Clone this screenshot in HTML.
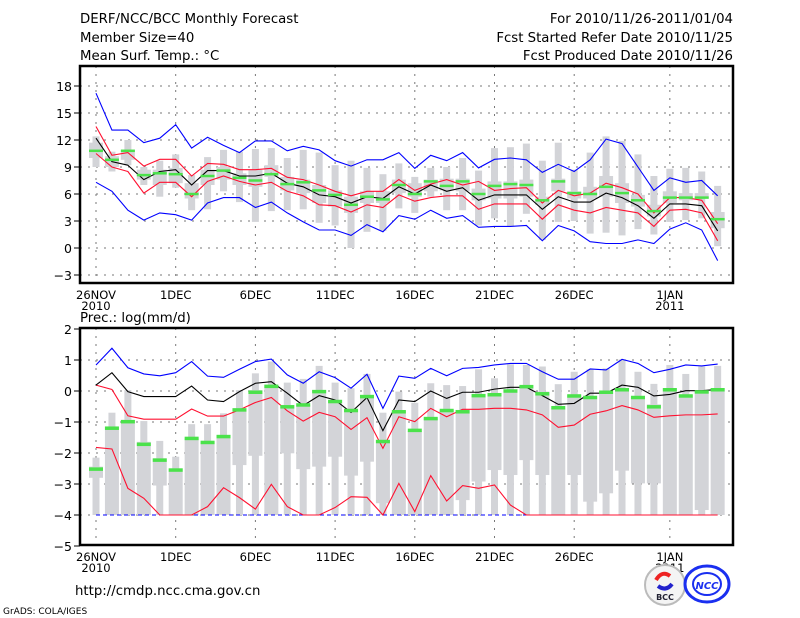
<!DOCTYPE html>
<html><head><meta charset="utf-8"><style>
html,body{margin:0;padding:0;background:#fff;}
svg{display:block;font-family:"DejaVu Sans","Liberation Sans",sans-serif;}
</style></head><body>
<svg id="chart" width="800" height="618" viewBox="0 0 800 618" xmlns="http://www.w3.org/2000/svg">
<g font-size="13.3" fill="#000">
<text x="80" y="23">DERF/NCC/BCC Monthly Forecast</text>
<text x="80" y="42">Member Size=40</text>
<text x="80" y="60">Mean Surf. Temp.: °C</text>
<text x="733" y="23" text-anchor="end">For 2010/11/26-2011/01/04</text>
<text x="733" y="42" text-anchor="end">Fcst Started Refer Date 2010/11/25</text>
<text x="733" y="60" text-anchor="end">Fcst Produced Date 2010/11/26</text>
<text x="80" y="322">Prec.: log(mm/d)</text>
<text x="75" y="595">http://cmdp.ncc.cma.gov.cn</text>
<text x="3" y="614" font-size="9">GrADS: COLA/IGES</text>
</g>
<g id="top"></g>
<g id="bot"></g>
<g>
<circle cx="665" cy="585" r="20" fill="#f4f4f4" stroke="#bbb" stroke-width="2"/>
<path d="M656 580 q6 -10 14 -4" stroke="#e22" stroke-width="4" fill="none"/>
<path d="M672 584 q-6 8 -14 2" stroke="#22c" stroke-width="4" fill="none"/>
<text x="665" y="600" font-size="8" text-anchor="middle" font-weight="bold" fill="#223">BCC</text>
</g>
<g>
<ellipse cx="707" cy="584" rx="22" ry="18" fill="#fff" stroke="#1a2ff0" stroke-width="3"/>
<ellipse cx="707" cy="584" rx="14" ry="11" fill="none" stroke="#1a2ff0" stroke-width="2"/>
<text x="707" y="589" font-size="10" text-anchor="middle" font-weight="bold" font-style="italic" fill="#1a2ff0">NCC</text>
</g>
</svg>
<script>
// ===== Temperature data (°C), days 26NOV..04JAN =====
const tBlueHi=[17.2,13.1,13.1,11.7,12.2,13.7,11.1,12.3,11.4,10.6,11.9,11.9,10.8,11.3,10.9,9.7,9.1,9.8,9.8,10.6,8.85,10.3,9.7,10.6,8.9,9.85,10.0,9.8,8.4,9.3,8.5,9.8,12.1,11.6,9.0,6.4,7.8,7.3,7.5,5.8];
const tBlueLo=[7.3,6.3,4.2,3.1,3.9,3.7,3.1,5.0,5.6,5.6,4.5,5.1,3.9,2.9,2.0,2.0,1.4,2.6,1.8,3.6,3.2,4.2,3.3,3.6,2.3,2.4,2.4,2.5,0.8,2.5,1.9,0.7,0.5,0.5,0.9,0.5,2.1,2.8,2.0,-1.4];
const tRedHi=[13.5,10.3,10.6,9.1,9.85,9.85,8.0,9.4,9.3,8.7,8.7,8.85,7.85,7.6,7.0,6.3,5.8,6.3,6.3,7.6,6.4,7.1,7.6,7.0,7.4,6.4,6.6,6.7,5.0,6.4,5.8,6.1,7.2,6.7,6.0,3.9,5.6,5.6,5.3,2.7];
const tRedLo=[10.5,9.0,8.5,6.1,7.3,7.3,5.7,7.4,8.0,7.4,7.0,7.3,6.3,5.8,4.8,4.7,4.0,4.8,4.5,5.9,5.2,5.6,5.8,5.8,4.3,4.9,4.9,4.9,3.2,4.8,4.2,3.9,4.5,4.2,3.9,2.4,4.2,4.3,3.9,0.8];
const tMean=[12.2,9.6,9.2,7.6,8.5,8.7,7.0,8.6,8.6,8.0,8.0,8.3,7.2,6.8,5.9,5.7,5.0,5.7,5.5,6.8,6.0,7.0,6.3,6.7,5.3,5.9,5.9,5.9,4.3,5.7,5.1,5.1,6.1,5.6,4.7,3.3,4.9,4.9,4.7,1.9];
const tGreen=[10.8,9.8,10.8,8.1,8.3,8.2,6.0,8.0,8.6,7.8,7.5,8.2,7.1,7.3,6.4,5.9,4.8,5.7,5.4,7.0,6.0,7.4,6.9,7.4,6.0,6.9,7.1,7.0,5.3,7.4,6.1,6.0,6.8,6.1,5.3,4.1,5.6,5.6,5.6,3.2];
const tWMax=[12.4,10.7,12.0,9.0,9.7,10.4,8.1,10.1,10.9,10.7,11.0,11.1,10.0,10.9,10.6,9.2,9.7,8.9,8.2,9.4,7.9,8.9,9.0,10.0,8.6,11.1,11.2,11.6,9.7,11.7,8.7,10.6,12.4,11.9,10.4,8.0,8.8,8.9,8.5,6.9];
const tWMin=[9.0,8.5,9.2,7.0,5.7,6.7,4.2,4.3,6.3,5.1,2.9,4.1,4.2,4.3,2.8,2.5,0.0,1.8,1.9,4.4,3.9,5.7,4.2,4.2,2.5,3.3,2.4,3.8,0.9,2.9,3.0,1.6,1.7,1.4,2.1,1.5,2.9,3.1,3.3,0.2];
const tBoxHi=[11.7,10.2,10.9,8.7,8.7,8.9,7.2,8.7,9.0,8.3,8.7,9.2,7.9,7.6,7.0,6.4,5.7,6.3,6.3,7.6,7.2,7.6,7.7,7.7,6.6,7.4,7.4,7.6,5.7,7.7,6.3,6.8,8.0,7.2,5.9,4.8,6.3,6.1,6.1,4.0];
const tBoxLo=[10.0,9.0,9.8,7.6,7.0,7.2,5.5,7.0,7.6,7.0,6.8,7.9,6.4,6.1,5.0,4.6,3.9,5.0,5.0,6.1,5.7,6.3,6.4,6.3,5.3,5.5,5.5,5.7,4.8,6.3,5.5,5.5,5.7,5.0,4.6,3.5,5.0,5.3,5.5,2.2];
const tTicks=[18,15,12,9,6,3,0,-3];
// ===== Precipitation data log(mm/d) =====
const pBlueHi=[0.84,1.38,0.75,0.55,0.49,0.59,0.95,0.48,0.44,0.70,0.95,1.03,0.52,0.25,0.62,0.43,0.09,0.54,-0.56,0.48,0.41,0.73,0.49,0.73,0.76,0.84,0.89,0.89,0.62,0.38,0.38,0.71,0.68,1.02,0.89,0.59,0.70,0.84,0.81,0.87];
const pMean=[0.19,0.59,-0.02,-0.18,-0.18,-0.18,0.16,-0.29,-0.34,-0.02,0.25,0.30,-0.07,-0.47,-0.15,-0.29,-0.69,-0.21,-1.28,-0.29,-0.34,0.0,-0.24,-0.04,-0.04,0.06,0.12,0.12,-0.15,-0.43,-0.40,-0.07,-0.07,0.19,0.12,-0.16,-0.11,0.01,0.01,0.05];
const pRedHi=[0.19,0.05,-0.80,-0.91,-0.91,-0.91,-0.58,-0.81,-0.81,-0.61,-0.37,-0.21,-0.64,-0.97,-0.69,-0.83,-1.24,-0.86,-1.85,-0.83,-0.99,-0.56,-0.83,-0.59,-0.59,-0.56,-0.56,-0.61,-0.77,-1.17,-1.10,-0.75,-0.64,-0.47,-0.61,-0.85,-0.80,-0.77,-0.77,-0.74];
const pRedLo=[-1.82,-1.87,-3.14,-3.46,-4,-4,-4,-3.73,-3.12,-3.44,-3.81,-3.01,-3.73,-4,-4,-3.76,-3.41,-3.43,-4,-2.98,-3.89,-2.73,-3.55,-3.05,-3.14,-3.03,-3.68,-4,-4,-4,-4,-4,-4,-4,-4,-4,-4,-4,-4,-4];
const pBlueLo=[-4,-4,-4,-4,-4,-4,-4,-4,-4,-4,-4,-4,-4,-4,-4,-4,-4,-4,-4,-4,-4,-4,-4,-4,-4,-4,-4,-4,-4,-4,-4,-4,-4,-4,-4,-4,-4,-4,-4,-4];
const pGreen=[-2.52,-1.20,-0.99,-1.72,-2.23,-2.55,-1.53,-1.66,-1.47,-0.61,-0.04,0.15,-0.51,-0.45,-0.02,-0.34,-0.63,-0.18,-1.63,-0.67,-1.27,-0.89,-0.63,-0.67,-0.15,-0.12,0.0,0.14,-0.09,-0.54,-0.16,-0.21,-0.04,0.04,-0.21,-0.51,0.04,-0.16,-0.03,0.04];
const pWMax=[-2.15,-0.70,0.03,-0.97,-1.61,-2.12,-1.07,-1.07,-0.72,0.03,0.57,0.95,0.27,0.39,0.81,0.27,0.09,0.55,-0.70,-0.02,-0.38,0.25,0.19,0.16,0.70,0.41,0.86,0.84,0.79,0.22,0.62,0.70,0.73,1.02,0.62,0.23,0.84,0.55,0.79,0.81];
const pWMin=[-4,-4,-4,-4,-4,-4,-4,-4,-4,-4,-4,-4,-4,-4,-4,-4,-4,-4,-4,-4,-4,-4,-4,-4,-4,-4,-4,-4,-4,-4,-4,-4,-4,-4,-4,-4,-4,-4,-4,-4];
const pBoxHi=[-2.44,-1.15,-0.93,-1.64,-2.17,-2.50,-1.53,-1.64,-1.42,-0.56,0.03,0.19,-0.45,-0.45,0.03,-0.29,-0.61,-0.13,-1.58,-0.64,-1.29,-0.88,-0.61,-0.61,-0.18,-0.13,0.03,0.09,-0.02,-0.56,-0.13,-0.18,-0.02,0.09,-0.18,-0.43,0.09,-0.13,0.03,0.09];
const pBoxLo=[-2.80,-4,-4,-4,-3.05,-4,-4,-4,-4,-2.39,-2.09,-4,-2.01,-2.52,-2.44,-2.12,-2.73,-2.28,-3.62,-4,-4,-4,-4,-3.52,-2.92,-2.55,-2.71,-2.23,-2.71,-4,-2.71,-3.57,-3.30,-2.57,-2.98,-2.98,-4,-4,-3.84,-4];
const pTicks=[2,1,0,-1,-2,-3,-4,-5];
// x-axis labels: day index, label, year
const xLabDay=[0,5,10,15,20,25,30,36];
const xLabText=["26NOV","1DEC","6DEC","11DEC","16DEC","21DEC","26DEC","1JAN"];
const xLabYear=["2010","","","","","","","2011"];

const NS="http://www.w3.org/2000/svg";
const X0=80,X1=733;
const xs=d=>96+d*15.94;
function mk(parent,tag,attrs){const e=document.createElementNS(NS,tag);for(const k in attrs)e.setAttribute(k,attrs[k]);parent.appendChild(e);return e;}

function panel(g,top,bottom,ys,ticks,data){
  ticks.forEach((t,i)=>{
    const y=ys(t);
    if(y>top+2&&y<bottom-2){const l=mk(g,'line',{x1:X0,x2:X1,y1:y,y2:y,stroke:'#777','stroke-dasharray':'2,6','stroke-width':1});
    
    }
    const tk=mk(g,'line',{x1:X0-6,x2:X0,y1:y,y2:y,stroke:'#000','stroke-width':1});
    
    
    const tx=mk(g,'text',{x:X0-8,y:y+5,'text-anchor':'end','font-size':'12.5'});
    tx.textContent=(t<0?'\u2212':'')+Math.abs(t);
    
    
  });
  xLabDay.forEach((d,i)=>{
    const x=xs(d);
    const l=mk(g,'line',{x1:x,x2:x,y1:top,y2:bottom+4,stroke:'#777','stroke-dasharray':'2,6','stroke-width':1});
    
    
    const t=mk(g,'text',{x:x,y:bottom+16,'text-anchor':'middle','font-size':'11.5'});
    t.textContent=xLabText[i];
    
    
    if(xLabYear[i]){const t2=mk(g,'text',{x:x,y:bottom+27,'text-anchor':'middle','font-size':'11.5'});
    t2.textContent=xLabYear[i];
    
    }
  });
  for(let d=0;d<40;d++){
    const x=xs(d);
    const w=mk(g,'rect',{x:x-3.5,width:7,y:ys(data.wmax[d]),height:Math.max(0,ys(data.wmin[d])-ys(data.wmax[d])),fill:'#d3d4d8'});
    
    
    const b=mk(g,'rect',{x:x-7,width:14,y:ys(data.bhi[d]),height:Math.max(0,ys(data.blo[d])-ys(data.bhi[d])),fill:'#d3d4d8'});
    
    
  }
  const line=(arr,col,name,dash)=>{
    const p=mk(g,'polyline',{points:arr.map((v,d)=>xs(d)+','+ys(v)).join(' '),fill:'none',stroke:col,'stroke-width':1.1});
    if(dash)p.setAttribute('stroke-dasharray',dash);
    
    
  };
  data.lines.forEach(l=>line(l[0],l[1],l[2],l[3]));
  for(let d=0;d<40;d++){
    const r=mk(g,'rect',{x:xs(d)-7,width:14,y:ys(data.green[d])-data.gh/2,height:data.gh,fill:'#4be24b'});
    
    
  }
  const f=mk(g,'rect',{x:X0,y:top,width:X1-X0,height:bottom-top,fill:'none',stroke:'#000','stroke-width':2.5});
  
  
}
const ysT=v=>248-9*v;
panel(document.getElementById('top'),66,283,ysT,tTicks,{wmax:tWMax,wmin:tWMin,bhi:tBoxHi,blo:tBoxLo,green:tGreen,gh:2.5,
 lines:[[tBlueHi,'#0000ff','upper-bound-line'],[tBlueLo,'#0000ff','lower-bound-line'],[tRedHi,'#ff1030','upper-quartile-line'],[tRedLo,'#ff1030','lower-quartile-line'],[tMean,'#000','mean-line']]});
const ysP=v=>391-31*v;
panel(document.getElementById('bot'),328,545,ysP,pTicks,{wmax:pWMax,wmin:pWMin,bhi:pBoxHi,blo:pBoxLo,green:pGreen,gh:3.5,
 lines:[[pBlueHi,'#0000ff','upper-bound-line'],[pBlueLo,'#0000ff','lower-bound-line','4,3'],[pRedHi,'#ff1030','upper-quartile-line'],[pRedLo,'#ff1030','lower-quartile-line'],[pMean,'#000','mean-line']]});
</script>
</body></html>
